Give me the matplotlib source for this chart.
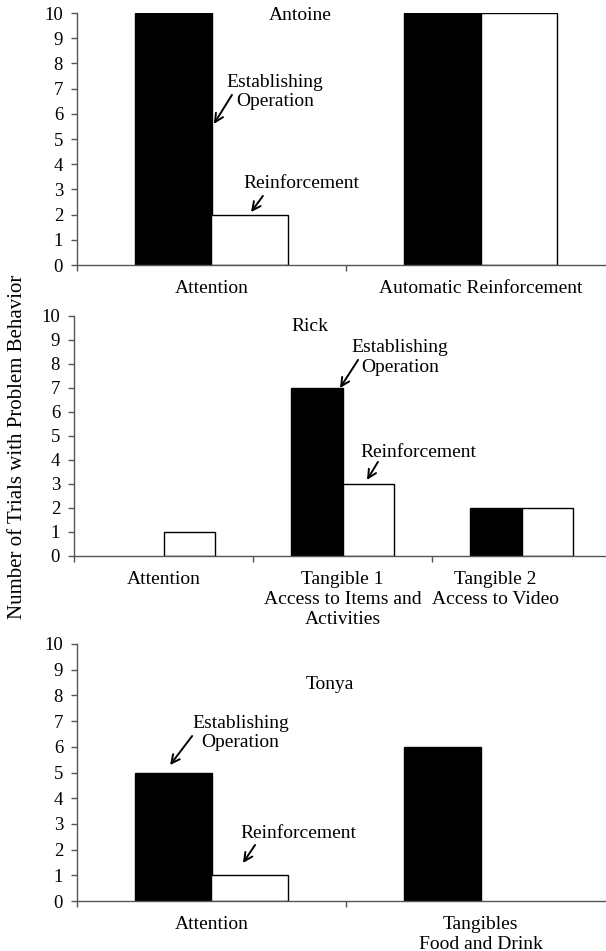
import numpy as np
import matplotlib
matplotlib.use('Agg')
import matplotlib.pyplot as plt

plt.rcParams['font.family'] = ['Liberation Serif', 'DejaVu Serif']

W, H = 606, 951

# Data
antoine_cats = ['Attention', 'Automatic Reinforcement']
antoine_eo = [10, 10]
antoine_sr = [2, 10]

rick_cats = ['Attention', 'Tangible 1\nAccess to Items and\nActivities',
             'Tangible 2\nAccess to Video']
rick_eo = [0, 7, 2]
rick_sr = [1, 3, 2]

tonya_cats = ['Attention', 'Tangibles\nFood and Drink']
tonya_eo = [5, 6]
tonya_sr = [1, 0]

yticks = list(range(0, 11))

fig = plt.figure(figsize=(W / 100, H / 100), dpi=100)
axis_grey = '#555555'
bar_w = 0.285
FS = 14
TFS = 13.5


def panel(box, cats, eo, sr, name, name_xy, eo_txt, eo_arrow, sr_txt, sr_arrow,
          label_dx=None):
    # box in pixels: left, right, top (y=10), bottom (y=0)
    l, r, top, bot = box
    ax = fig.add_axes([l / W, 1 - bot / H, (r - l) / W, (bot - top) / H])
    n = len(cats)
    x = np.arange(n) + 0.5
    ax.bar(x - bar_w / 2, eo, bar_w, color='black', edgecolor='black',
           lw=[1 if v > 0 else 0 for v in eo])
    ax.bar(x + bar_w / 2, sr, bar_w, color='white', edgecolor='black',
           lw=[1 if v > 0 else 0 for v in sr])
    ax.set_xlim(0, n)
    ax.set_ylim(0, 10)
    ax.set_yticks(yticks)
    ax.set_xticks(range(n + 1))
    ax.set_xticklabels([])
    for s in ['top', 'right']:
        ax.spines[s].set_visible(False)
    for s in ['left', 'bottom']:
        ax.spines[s].set_color(axis_grey)
        ax.spines[s].set_linewidth(1)
    ax.tick_params(axis='both', direction='out', length=4, width=1, color=axis_grey,
                   labelsize=TFS, pad=6)
    ax.patch.set_visible(False)
    if label_dx is None:
        label_dx = [0] * n
    for xi, c, dx in zip(x, cats, label_dx):
        ax.annotate(c, xy=(xi, 0), xycoords=('data', 'axes fraction'),
                    xytext=(dx, -10.5), textcoords='offset points',
                    ha='center', va='top', fontsize=FS, linespacing=1.25,
                    annotation_clip=False)
    ax.text(name_xy[0], name_xy[1], name, ha='center', va='center', fontsize=FS)
    ax.text(eo_txt[0], eo_txt[1], 'Establishing\nOperation', ha='center', va='center',
            fontsize=FS, linespacing=1.2)
    ax.text(sr_txt[0], sr_txt[1], 'Reinforcement', ha='center', va='center', fontsize=FS)
    for tail, head in [eo_arrow, sr_arrow]:
        ax.annotate('', xy=head, xytext=tail,
                    arrowprops=dict(arrowstyle='->, head_length=0.6, head_width=0.3',
                                    lw=1.4, color='black', shrinkA=0, shrinkB=0))
    return ax


panel((77, 615, 13, 265), antoine_cats, antoine_eo, antoine_sr,
      'Antoine', (0.829, 9.92),
      (0.736, 6.87), ((0.576, 6.75), (0.509, 5.6)),
      (0.833, 3.25), ((0.691, 2.74), (0.647, 2.1)))

panel((74, 611, 316, 556), rick_cats, rick_eo, rick_sr,
      'Rick', (1.318, 9.58),
      (1.821, 8.27), ((1.587, 8.17), (1.486, 7.0)),
      (1.922, 4.33), ((1.698, 3.92), (1.637, 3.17)),
      label_dx=[0, 0, -19])

panel((77, 615, 644, 901), tonya_cats, tonya_eo, tonya_sr,
      'Tonya', (0.941, 8.44),
      (0.608, 6.54), ((0.428, 6.42), (0.346, 5.29)),
      (0.822, 2.61), ((0.662, 2.18), (0.617, 1.48)))

fig.text(18 / W, 1 - 447 / H, 'Number of Trials with Problem Behavior', rotation=90,
         ha='center', va='center', fontsize=15)

fig.savefig('out.png', dpi=100)
